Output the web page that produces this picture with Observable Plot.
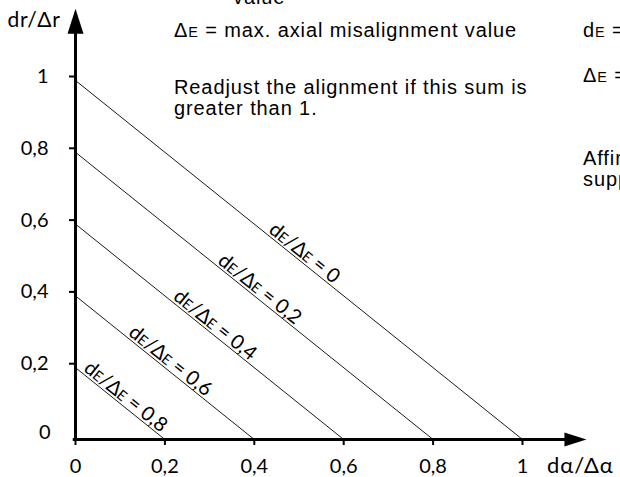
<!DOCTYPE html>
<html><head><meta charset="utf-8">
<script src="https://cdn.jsdelivr.net/npm/d3@7"></script>
<script src="https://cdn.jsdelivr.net/npm/@observablehq/plot@0.6"></script>
<style>
html,body{margin:0;padding:0;background:#fff;overflow:hidden;}
#chart svg{display:block;overflow:hidden;}
</style></head><body><div id="chart"></div>
<script>
// ---- data ----
const xTicks = [0, 0.2, 0.4, 0.6, 0.8, 1];
const yTicks = [0, 0.2, 0.4, 0.6, 0.8, 1];
const ratios = [0, 0.2, 0.4, 0.6, 0.8];           // dE/ΔE values
const curveLabels = ["dE/ΔE = 0", "dE/ΔE = 0,2", "dE/ΔE = 0,4", "dE/ΔE = 0,6", "dE/ΔE = 0,8"];
const xAxisLabel = "dα/Δα";
const yAxisLabel = "dr/Δr";
const notesLeft = ["value", "ΔE = max. axial misalignment value", "Readjust the alignment if this sum is", "greater than 1."];
const notesRight = ["dE = ", "ΔE = ", "Affirm", "supp"];

const fmt = d => String(d).replace(".", ",");
const curves = ratios.map((k, i) => ({k, label: curveLabels[i], x1: 0, y1: 1 - k, x2: 1 - k, y2: 0, mx: (1 - k) / 2, my: (1 - k) / 2}));

const W = 620, H = 477, mL = 75, mR = 98, mT = 80, mB = 38;
const angle = Math.atan((H - mB - mT) / (W - mR - mL)) * 180 / Math.PI;
const rad = angle * Math.PI / 180;

const arrowUp = {draw(ctx) { ctx.moveTo(0, 0); ctx.lineTo(-8, 25); ctx.lineTo(8, 25); ctx.closePath(); }};
const arrowRight = {draw(ctx) { ctx.moveTo(0, 0); ctx.lineTo(-22, -7); ctx.lineTo(-22, 7); ctx.closePath(); }};
const tickFont = "Lato, 'Noto Sans', sans-serif";

const chart = Plot.plot({
  width: W, height: H,
  marginLeft: mL, marginRight: mR, marginTop: mT, marginBottom: mB,
  x: {domain: [0, 1]},
  y: {domain: [0, 1]},
  style: {fontFamily: tickFont, fontSize: "20px", color: "black", background: "white"},
  marks: [
    Plot.link(curves, {x1: "x1", y1: "y1", x2: "x2", y2: "y2", stroke: "black", strokeWidth: 0.9}),
    Plot.text(curves, {x: "mx", y: "my", text: "label", rotate: angle, textAnchor: "middle", lineAnchor: "bottom",
      dx: 2.5 * Math.sin(rad), dy: -2.5 * Math.cos(rad), fontSize: 20, fill: "black"}),
    Plot.axisX(xTicks, {tickFormat: fmt, tickSize: 6, tickPadding: 13, strokeWidth: 2, label: null, fontSize: 20, style: "letter-spacing:0.4px"}),
    Plot.axisY(yTicks.filter(d => d > 0), {tickFormat: fmt, tickSize: 6, tickPadding: 21, strokeWidth: 2, label: null, dy: -4, fontSize: 20}),
    Plot.text([0], {x: 0, y: 0, text: d => fmt(d), textAnchor: "end", dx: -25, dy: -7, fontSize: 20}),
    Plot.ruleX([0], {y1: 0, y2: 1.14, strokeWidth: 3, stroke: "black"}),
    Plot.ruleY([0], {x1: -0.005, x2: 1.1, strokeWidth: 3, stroke: "black"}),
    Plot.dot([0], {x: 0, y: () => 1.2, symbol: arrowUp, fill: "black", stroke: null}),
    Plot.dot([0], {x: () => 1.143, y: 0, symbol: arrowRight, fill: "black", stroke: null})
  ]
});
document.getElementById("chart").appendChild(chart);

const svg = d3.select(chart);
// axis titles
svg.append("text").attr("x", 34).attr("y", 27).attr("text-anchor", "middle")
  .style("font-family", tickFont).style("font-size", "21px").style("letter-spacing", "0.6px").text(yAxisLabel);
svg.append("text").attr("x", 547).attr("y", 473).attr("text-anchor", "start")
  .style("font-family", tickFont).style("font-size", "22px").style("letter-spacing", "1px").text(xAxisLabel);

// notes
const noteFont = "'Liberation Sans', Arial, sans-serif";
const leftPos = [[233, 4], [174, 37], [174, 94], [174, 115]];
notesLeft.forEach((t, i) => svg.append("text").attr("x", leftPos[i][0]).attr("y", leftPos[i][1]).attr("text-anchor", "start")
  .style("font-family", noteFont).style("font-size", "20px").style("letter-spacing", "0.9px").text(t));
const rightPos = [37, 82, 165, 186];
notesRight.forEach((t, i) => svg.append("text").attr("x", 583).attr("y", rightPos[i]).attr("text-anchor", "start")
  .style("font-family", noteFont).style("font-size", "20px").style("letter-spacing", "0.9px").text(t));

// small-cap E in dE / ΔE
chart.querySelectorAll("text").forEach(el => {
  const targets = el.querySelectorAll("tspan").length ? el.querySelectorAll("tspan") : [el];
  targets.forEach(node => {
    const s = node.textContent;
    if (!s.includes("E")) return;
    node.textContent = "";
    s.split(/(E)/).forEach(part => {
      if (!part) return;
      const ts = document.createElementNS("http://www.w3.org/2000/svg", "tspan");
      if (part === "E") ts.setAttribute("font-size", "72%");
      ts.textContent = part;
      node.appendChild(ts);
    });
  });
});
</script></body></html>
